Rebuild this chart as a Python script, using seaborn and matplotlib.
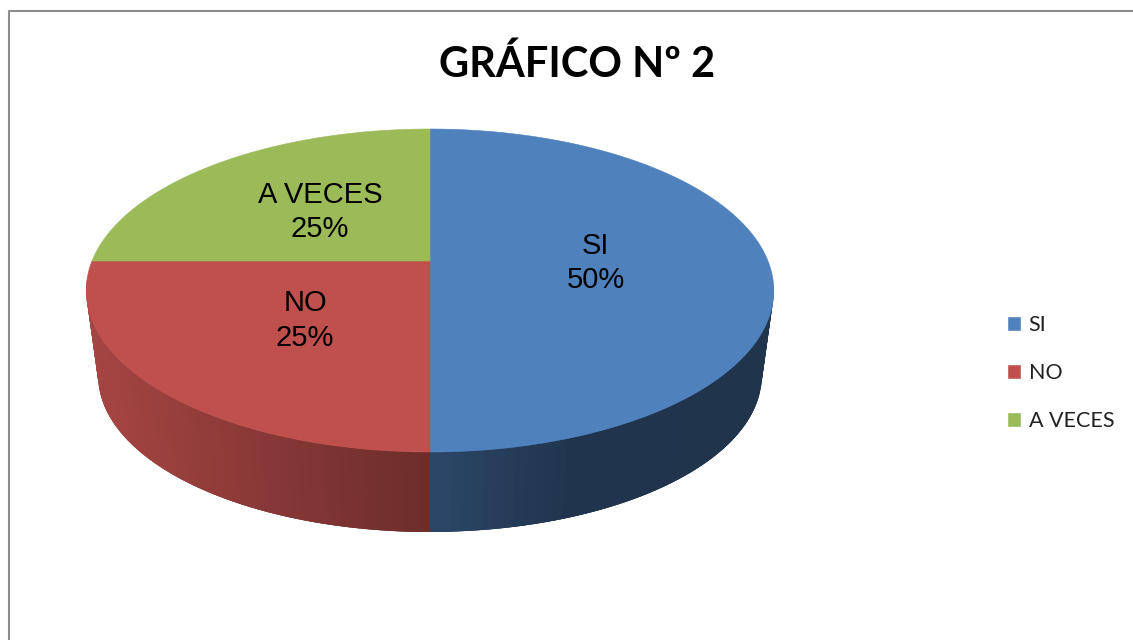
import numpy as np
import matplotlib.pyplot as plt
from matplotlib.patches import Patch
import seaborn as sns

# Data
categories = ["SI", "NO", "A VECES"]
values = [50, 25, 25]
colors = ["#4f81bd", "#c0504d", "#9bbb59"]

TITLE = "GRÁFICO Nº 2"

# Pie geometry in pixels (the picture is a faked 3D pie in perspective)
CX, CY = 430, 261
RX, UP, DOWN = 338, 132, 191
DEPTH_SCALE = 0.965
BOTTOM_Y = 532

sns.set_theme(style="white")
palette = sns.color_palette(colors)
plt.rcParams["font.family"] = ["Liberation Sans", "DejaVu Sans"]


def project(theta, r=1.0):
    # unit circle -> screen, center of the pie stays off the ellipse center
    x, y = r * np.cos(theta), r * np.sin(theta)
    k = (DOWN - UP) / (DOWN + UP)
    a = UP * (1 + k)
    w = 1 + k * y
    return CX + RX * x / w, CY - a * y / w


def to_bottom(px, py):
    # lower rim is the top rim pushed down and slightly shrunk
    top_mid = (CY - UP + CY + DOWN) / 2
    ry = (UP + DOWN) / 2
    new_ry = ry * DEPTH_SCALE
    new_mid = BOTTOM_Y - new_ry
    return CX + (px - CX) * DEPTH_SCALE, new_mid + (py - top_mid) * DEPTH_SCALE


def side_shade(i, px):
    # darkening of the rim
    if i == 0:
        return np.interp(px, [430, 570, 780], [0.55, 0.41, 0.40])
    if i == 1:
        return np.interp(px, [90, 250, 430], [0.86, 0.72, 0.56])
    return 0.6


fig = plt.figure(figsize=(11.33, 6.4), dpi=100)
ax = fig.add_axes([0, 0, 1, 1])
ax.set_xlim(0, 1133)
ax.set_ylim(640, 0)
ax.axis("off")

# chart frame
ax.plot([9, 9, 1133], [640, 11, 11], color="#8c8c8c", lw=1.5, zorder=1)

shares = np.array(values) / sum(values) * 2 * np.pi
ends = np.pi / 2 - np.cumsum(shares)
starts = ends + shares

# rim first, only the front part shows
for i in [2, 0, 1]:
    th = np.linspace(starts[i], ends[i], 120)
    px, py = project(th)
    bx, by = to_bottom(px, py)
    base = np.array(palette[i])
    for j in range(len(th) - 1):
        if py[j] < 285 and py[j + 1] < 285:
            continue
        k = min(j + 3, len(th) - 1)  # overlap the strips, no seams
        c = base * side_shade(i, (px[j] + px[j + 1]) / 2)
        ax.fill([px[j], px[k], bx[k], bx[j]],
                [py[j], py[k], by[k], by[j]],
                color=c, lw=0, zorder=2 + (i == 1) * 0.1)

# top face
for i in range(len(values)):
    th = np.linspace(starts[i], ends[i], 200)
    px, py = project(th)
    ax.fill(np.r_[CX, px], np.r_[CY, py], facecolor=palette[i],
            edgecolor=palette[i], lw=0.4, zorder=3)

    mid = (starts[i] + ends[i]) / 2
    lx, ly = project(mid, 0.49)
    ax.text(lx, ly + 2, f"{categories[i]}\n{values[i]}%", ha="center", va="center",
            fontsize=21, color="black", linespacing=1.3, zorder=4)

ax.text(577, 64, TITLE, ha="center", va="center", fontsize=30,
        fontweight="bold", family=["Lato", "DejaVu Sans"], color="black")

handles = [Patch(facecolor=palette[i], label=categories[i]) for i in range(len(values))]
ax.legend(handles=handles, loc="center left", bbox_to_anchor=(1007, 373),
          bbox_transform=ax.transData, frameon=False, handlelength=0.65,
          handleheight=0.65, handletextpad=0.35, labelspacing=1.3, borderpad=0,
          borderaxespad=0, prop={"family": "Lato", "size": 15.5}, labelcolor="#222222")

plt.savefig("out.png", dpi=100)
